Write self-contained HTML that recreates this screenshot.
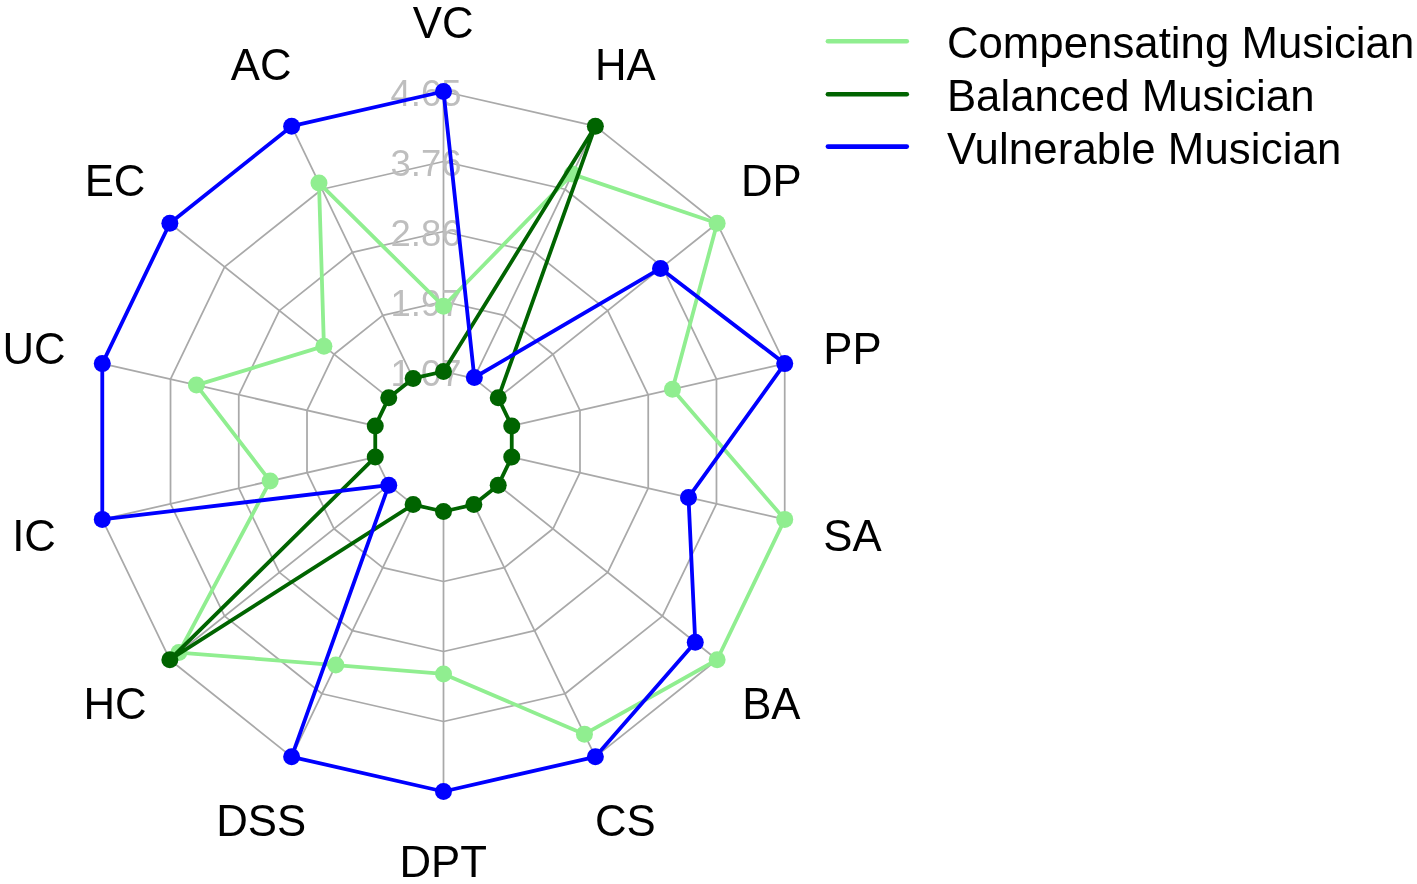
<!DOCTYPE html>
<html lang="en"><head><meta charset="utf-8"><title>Radar chart</title>
<style>html,body{margin:0;padding:0;background:#fff;}body{width:1417px;height:884px;overflow:hidden;}svg{display:block;}text{font-family:"Liberation Sans",Arial,sans-serif;}</style></head><body>
<svg width="1417" height="884" viewBox="0 0 1417 884">
<rect width="1417" height="884" fill="#ffffff"/>
<g fill="none" stroke="#A9A9A9" stroke-width="1.75" stroke-linejoin="round" stroke-linecap="round">
<polygon points="443.50,371.50 413.13,378.43 388.77,397.86 375.26,425.92 375.26,457.08 388.77,485.14 413.13,504.57 443.50,511.50 473.87,504.57 498.23,485.14 511.74,457.08 511.74,425.92 498.23,397.86 473.87,378.43"/>
<polygon points="443.50,301.50 382.76,315.36 334.04,354.21 307.01,410.35 307.01,472.65 334.04,528.79 382.76,567.64 443.50,581.50 504.24,567.64 552.96,528.79 579.99,472.65 579.99,410.35 552.96,354.21 504.24,315.36"/>
<polygon points="443.50,231.50 352.38,252.30 279.32,310.57 238.77,394.77 238.77,488.23 279.32,572.43 352.38,630.70 443.50,651.50 534.62,630.70 607.68,572.43 648.23,488.23 648.23,394.77 607.68,310.57 534.62,252.30"/>
<polygon points="443.50,161.50 322.01,189.23 224.59,266.92 170.52,379.19 170.52,503.81 224.59,616.08 322.01,693.77 443.50,721.50 564.99,693.77 662.41,616.08 716.48,503.81 716.48,379.19 662.41,266.92 564.99,189.23"/>
<polygon points="443.50,91.50 291.64,126.16 169.86,223.28 102.28,363.62 102.28,519.38 169.86,659.72 291.64,756.84 443.50,791.50 595.36,756.84 717.14,659.72 784.72,519.38 784.72,363.62 717.14,223.28 595.36,126.16"/>
<line x1="443.50" y1="371.50" x2="443.50" y2="91.50"/>
<line x1="413.13" y1="378.43" x2="291.64" y2="126.16"/>
<line x1="388.77" y1="397.86" x2="169.86" y2="223.28"/>
<line x1="375.26" y1="425.92" x2="102.28" y2="363.62"/>
<line x1="375.26" y1="457.08" x2="102.28" y2="519.38"/>
<line x1="388.77" y1="485.14" x2="169.86" y2="659.72"/>
<line x1="413.13" y1="504.57" x2="291.64" y2="756.84"/>
<line x1="443.50" y1="511.50" x2="443.50" y2="791.50"/>
<line x1="473.87" y1="504.57" x2="595.36" y2="756.84"/>
<line x1="498.23" y1="485.14" x2="717.14" y2="659.72"/>
<line x1="511.74" y1="457.08" x2="784.72" y2="519.38"/>
<line x1="511.74" y1="425.92" x2="784.72" y2="363.62"/>
<line x1="498.23" y1="397.86" x2="717.14" y2="223.28"/>
<line x1="473.87" y1="378.43" x2="595.36" y2="126.16"/>
</g>
<g fill="#BEBEBE" font-size="36.46" text-anchor="middle">
<text transform="translate(426.00,372.90) scale(1,1.02)" y="12.54">1.07</text>
<text transform="translate(426.00,302.90) scale(1,1.02)" y="12.54">1.97</text>
<text transform="translate(426.00,232.90) scale(1,1.02)" y="12.54">2.86</text>
<text transform="translate(426.00,162.90) scale(1,1.02)" y="12.54">3.76</text>
<text transform="translate(426.00,92.90) scale(1,1.02)" y="12.54">4.65</text>
</g>
<g fill="#000" font-size="43.75" text-anchor="middle">
<text transform="translate(443.20,22.90) scale(1,1.031)" y="15.05">VC</text>
<text transform="translate(261.10,64.42) scale(1,1.031)" y="15.05">AC</text>
<text transform="translate(115.07,180.77) scale(1,1.031)" y="15.05">EC</text>
<text transform="translate(34.02,348.90) scale(1,1.031)" y="15.05">UC</text>
<text transform="translate(34.02,535.50) scale(1,1.031)" y="15.05">IC</text>
<text transform="translate(115.07,703.63) scale(1,1.031)" y="15.05">HC</text>
<text transform="translate(261.10,819.98) scale(1,1.031)" y="15.05">DSS</text>
<text transform="translate(443.20,861.50) scale(1,1.031)" y="15.05">DPT</text>
<text transform="translate(625.30,819.98) scale(1,1.031)" y="15.05">CS</text>
<text transform="translate(771.33,703.63) scale(1,1.031)" y="15.05">BA</text>
<text transform="translate(852.38,535.50) scale(1,1.031)" y="15.05">SA</text>
<text transform="translate(852.38,348.90) scale(1,1.031)" y="15.05">PP</text>
<text transform="translate(771.33,180.77) scale(1,1.031)" y="15.05">DP</text>
<text transform="translate(625.30,64.42) scale(1,1.031)" y="15.05">HA</text>
</g>
<polygon points="443.50,306.26 318.98,182.92 323.92,346.14 196.45,385.11 270.16,481.06 178.89,652.52 335.83,665.08 443.50,673.90 584.43,734.13 717.14,659.72 784.72,519.38 672.46,389.24 717.14,223.28 572.28,174.09" fill="none" stroke="#90EE90" stroke-width="3.8" stroke-linejoin="round"/>
<g fill="#90EE90">
<circle cx="443.50" cy="306.26" r="8.5"/>
<circle cx="318.98" cy="182.92" r="8.5"/>
<circle cx="323.92" cy="346.14" r="8.5"/>
<circle cx="196.45" cy="385.11" r="8.5"/>
<circle cx="270.16" cy="481.06" r="8.5"/>
<circle cx="178.89" cy="652.52" r="8.5"/>
<circle cx="335.83" cy="665.08" r="8.5"/>
<circle cx="443.50" cy="673.90" r="8.5"/>
<circle cx="584.43" cy="734.13" r="8.5"/>
<circle cx="717.14" cy="659.72" r="8.5"/>
<circle cx="784.72" cy="519.38" r="8.5"/>
<circle cx="672.46" cy="389.24" r="8.5"/>
<circle cx="717.14" cy="223.28" r="8.5"/>
<circle cx="572.28" cy="174.09" r="8.5"/>
</g>
<polygon points="443.50,371.50 413.13,378.43 388.77,397.86 375.26,425.92 375.26,457.08 169.86,659.72 413.13,504.57 443.50,511.50 473.87,504.57 498.23,485.14 511.74,457.08 511.74,425.92 498.23,397.86 595.36,126.16" fill="none" stroke="#006400" stroke-width="3.8" stroke-linejoin="round"/>
<g fill="#006400">
<circle cx="443.50" cy="371.50" r="8.5"/>
<circle cx="413.13" cy="378.43" r="8.5"/>
<circle cx="388.77" cy="397.86" r="8.5"/>
<circle cx="375.26" cy="425.92" r="8.5"/>
<circle cx="375.26" cy="457.08" r="8.5"/>
<circle cx="169.86" cy="659.72" r="8.5"/>
<circle cx="413.13" cy="504.57" r="8.5"/>
<circle cx="443.50" cy="511.50" r="8.5"/>
<circle cx="473.87" cy="504.57" r="8.5"/>
<circle cx="498.23" cy="485.14" r="8.5"/>
<circle cx="511.74" cy="457.08" r="8.5"/>
<circle cx="511.74" cy="425.92" r="8.5"/>
<circle cx="498.23" cy="397.86" r="8.5"/>
<circle cx="595.36" cy="126.16" r="8.5"/>
</g>
<polygon points="443.50,91.50 291.64,126.16 169.86,223.28 102.28,363.62 102.28,519.38 388.77,485.14 291.64,756.84 443.50,791.50 595.36,756.84 695.25,642.26 688.50,497.42 784.72,363.62 660.50,268.45 474.33,377.49" fill="none" stroke="#0000FF" stroke-width="3.8" stroke-linejoin="round"/>
<g fill="#0000FF">
<circle cx="443.50" cy="91.50" r="8.5"/>
<circle cx="291.64" cy="126.16" r="8.5"/>
<circle cx="169.86" cy="223.28" r="8.5"/>
<circle cx="102.28" cy="363.62" r="8.5"/>
<circle cx="102.28" cy="519.38" r="8.5"/>
<circle cx="388.77" cy="485.14" r="8.5"/>
<circle cx="291.64" cy="756.84" r="8.5"/>
<circle cx="443.50" cy="791.50" r="8.5"/>
<circle cx="595.36" cy="756.84" r="8.5"/>
<circle cx="695.25" cy="642.26" r="8.5"/>
<circle cx="688.50" cy="497.42" r="8.5"/>
<circle cx="784.72" cy="363.62" r="8.5"/>
<circle cx="660.50" cy="268.45" r="8.5"/>
<circle cx="474.33" cy="377.49" r="8.5"/>
</g>
<line x1="827.9" y1="41.20" x2="906.8" y2="41.20" stroke="#90EE90" stroke-width="4.56" stroke-linecap="round"/>
<text transform="translate(946.9,57.90) scale(1,1.031)" font-size="43.75" letter-spacing="0.03" fill="#000">Compensating Musician</text>
<line x1="827.9" y1="94.30" x2="906.8" y2="94.30" stroke="#006400" stroke-width="4.56" stroke-linecap="round"/>
<text transform="translate(946.9,111.00) scale(1,1.031)" font-size="43.75" letter-spacing="0.03" fill="#000">Balanced Musician</text>
<line x1="827.9" y1="146.60" x2="906.8" y2="146.60" stroke="#0000FF" stroke-width="4.56" stroke-linecap="round"/>
<text transform="translate(946.9,163.70) scale(1,1.031)" font-size="43.75" letter-spacing="0.12" fill="#000">Vulnerable Musician</text>
</svg></body></html>
